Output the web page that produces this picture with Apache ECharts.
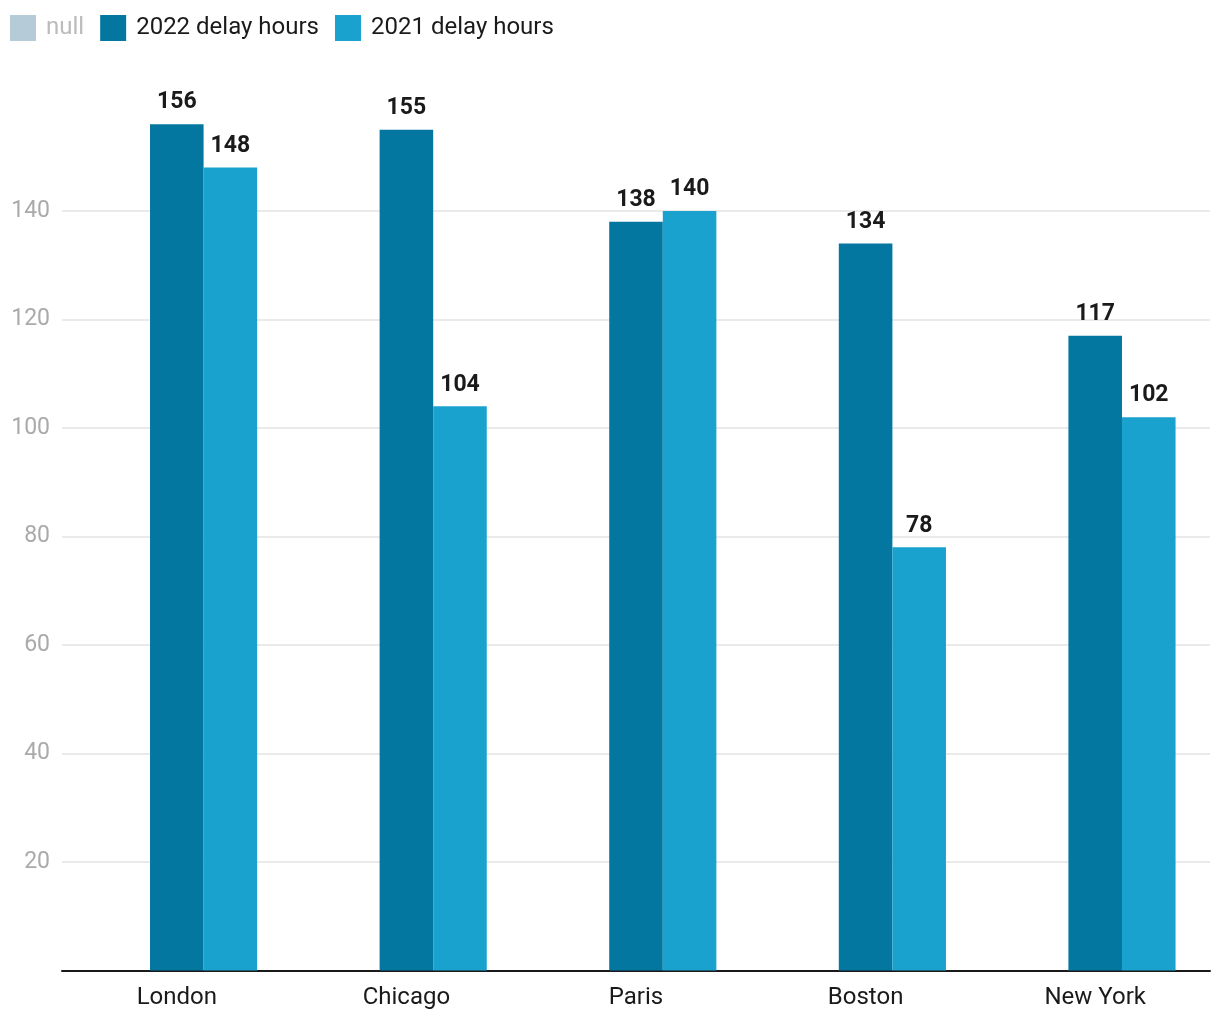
<!DOCTYPE html>
<html>
<head>
<meta charset="utf-8">
<script src="https://cdn.jsdelivr.net/npm/echarts@6/dist/echarts.min.js"></script>
<style>html,body{margin:0;padding:0;background:#fff}#c{width:1220px;height:1020px}</style>
</head>
<body>
<div id="c"></div>
<script>
const categories = ['London', 'Chicago', 'Paris', 'Boston', 'New York'];
const nullSeries = [null, null, null, null, null];
const delay2022 = [156, 155, 138, 134, 117];
const delay2021 = [148, 104, 140, 78, 102];
const yTicks = [20, 40, 60, 80, 100, 120, 140];

const chart = echarts.init(document.getElementById('c'));
const labelStyle = {show: true, position: 'top', distance: 10, fontFamily: 'Roboto', fontWeight: 'bold', fontSize: 23, color: '#1a1a1a'};
chart.setOption({
  animation: false,
  textStyle: {fontFamily: 'Roboto'},
  legend: {
    left: 10, top: 13, padding: 0, itemWidth: 26, itemHeight: 26, itemGap: 16,
    icon: 'rect',
    textStyle: {fontSize: 24, lineHeight: 28, color: '#1a1a1a', padding: [2, 0, 0, 5]},
    data: [
      {name: 'null', textStyle: {color: '#bbbbbb'}},
      {name: '2022 delay hours'},
      {name: '2021 delay hours'}
    ]
  },
  grid: {left: 62, right: 10, top: 102.5, bottom: 49.5},
  xAxis: {
    type: 'category', data: categories,
    axisLine: {lineStyle: {color: '#1a1a1a', width: 2}},
    axisTick: {show: false},
    axisLabel: {fontSize: 24, color: '#1a1a1a', margin: 15}
  },
  yAxis: {
    type: 'value', min: 0, max: 160, interval: 20,
    axisLine: {show: false}, axisTick: {show: false},
    axisLabel: {fontSize: 23, color: '#aaaaaa', margin: 12, showMinLabel: false, showMaxLabel: false,
      padding: [3, 0, 0, 0],
      formatter: v => yTicks.includes(v) ? String(v) : ''},
    splitLine: {lineStyle: {color: '#e3e3e3', width: 1.5}, showMinLine: false, showMaxLine: false}
  },
  series: [
    {name: 'null', type: 'bar', data: nullSeries, itemStyle: {color: '#b5cbd8'}, barGap: '0%', barCategoryGap: '30%'},
    {name: '2022 delay hours', type: 'bar', data: delay2022, itemStyle: {color: '#0477a1'}, label: labelStyle, barGap: '0%', barCategoryGap: '30%'},
    {name: '2021 delay hours', type: 'bar', data: delay2021, itemStyle: {color: '#1aa2ce'}, label: labelStyle, barGap: '0%', barCategoryGap: '30%'}
  ]
});
</script>
</body>
</html>
